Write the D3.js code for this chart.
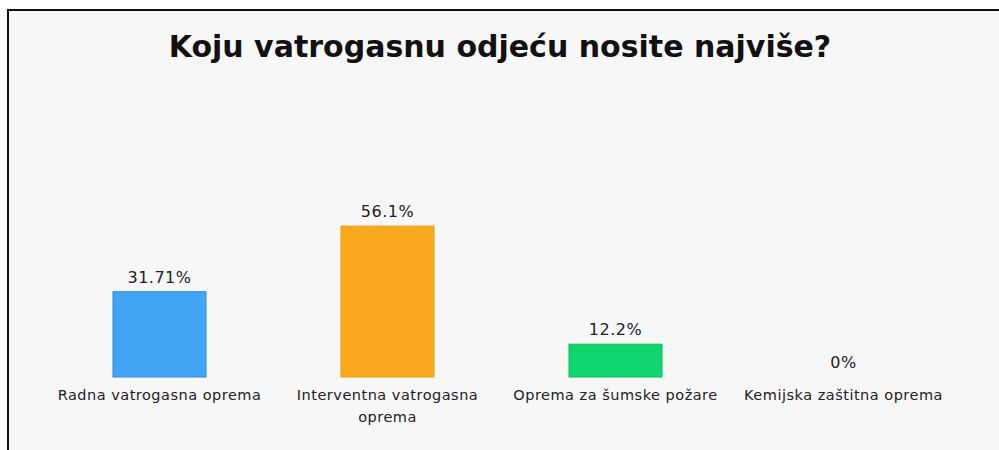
<!DOCTYPE html>
<html>
<head>
<meta charset="utf-8">
<script src="https://cdn.jsdelivr.net/npm/d3@7"></script>
<style>
  body { margin: 0; background: #fff; }
  text { font-family: "DejaVu Sans", sans-serif; }
</style>
</head>
<body>
<div id="chart"></div>
<script>
// chart data
var title = "Koju vatrogasnu odjeću nosite najviše?";
var categories = ["Radna vatrogasna oprema", "Interventna vatrogasna oprema", "Oprema za šumske požare", "Kemijska zaštitna oprema"];
var values = [31.71, 56.1, 12.2, 0];
var valueLabels = ["31.71%", "56.1%", "12.2%", "0%"];
var colors = ["#42a5f5", "#f8a91d", "#10d56c", "#9c27b0"];
var strokes = ["#2d8fe3", "#eea012", "#0cbf5f", "#9c27b0"];

var width = 999, height = 450;

var svg = d3.select("#chart").append("svg")
    .attr("width", width)
    .attr("height", height);

// panel with border on top and left
svg.append("rect")
    .attr("x", 8)
    .attr("y", 10)
    .attr("width", 1100)
    .attr("height", 600)
    .attr("fill", "#f7f7f7")
    .attr("stroke", "#111")
    .attr("stroke-width", 2);

// scales
var x = d3.scaleBand()
    .domain(categories)
    .range([45.5, 957.5])
    .paddingInner(0.592)
    .paddingOuter(0.296);

var y = d3.scaleLinear()
    .domain([0, 100])
    .range([377, 108]);

// title
svg.append("text")
    .attr("x", 500)
    .attr("y", 57)
    .attr("text-anchor", "middle")
    .style("font-size", "30px")
    .style("font-weight", "bold")
    .style("fill", "#111")
    .text(title);

// bars
svg.selectAll(".bar")
    .data(values)
    .enter().append("rect")
      .attr("class", "bar")
      .attr("x", function(d, i) { return x(categories[i]); })
      .attr("y", function(d) { return y(d); })
      .attr("width", x.bandwidth())
      .attr("height", function(d) { return y(0) - y(d); })
      .attr("fill", function(d, i) { return colors[i]; })
      .attr("stroke", function(d, i) { return d > 0 ? strokes[i] : "none"; })
      .attr("stroke-width", 1);

// value labels
svg.selectAll(".val")
    .data(values)
    .enter().append("text")
      .attr("class", "val")
      .attr("x", function(d, i) { return x(categories[i]) + x.bandwidth() / 2; })
      .attr("y", function(d) { return y(d) - 9; })
      .attr("text-anchor", "middle")
      .style("font-size", "16px")
      .style("letter-spacing", "0.5px")
      .style("fill", "#222")
      .text(function(d, i) { return valueLabels[i]; });

// category labels, wrapped
var catLabels = svg.selectAll(".cat")
    .data(categories)
    .enter().append("text")
      .attr("class", "cat")
      .attr("text-anchor", "middle")
      .attr("transform", function(d) { return "translate(" + (x(d) + x.bandwidth() / 2) + ",400)"; })
      .style("font-size", "14.5px")
      .style("letter-spacing", "0.5px")
      .style("fill", "#222");

catLabels.each(function(d) {
  var t = d3.select(this);
  var words = d.split(" ");
  var line = [];
  var tspan = t.append("tspan").attr("x", 0).attr("dy", 0);
  for (var i = 0; i < words.length; i++) {
    line.push(words[i]);
    tspan.text(line.join(" "));
    if (tspan.node().getComputedTextLength() > 222 && line.length > 1) {
      line.pop();
      tspan.text(line.join(" "));
      line = [words[i]];
      tspan = t.append("tspan").attr("x", 0).attr("dy", 22).text(words[i]);
    }
  }
});
</script>
</body>
</html>
